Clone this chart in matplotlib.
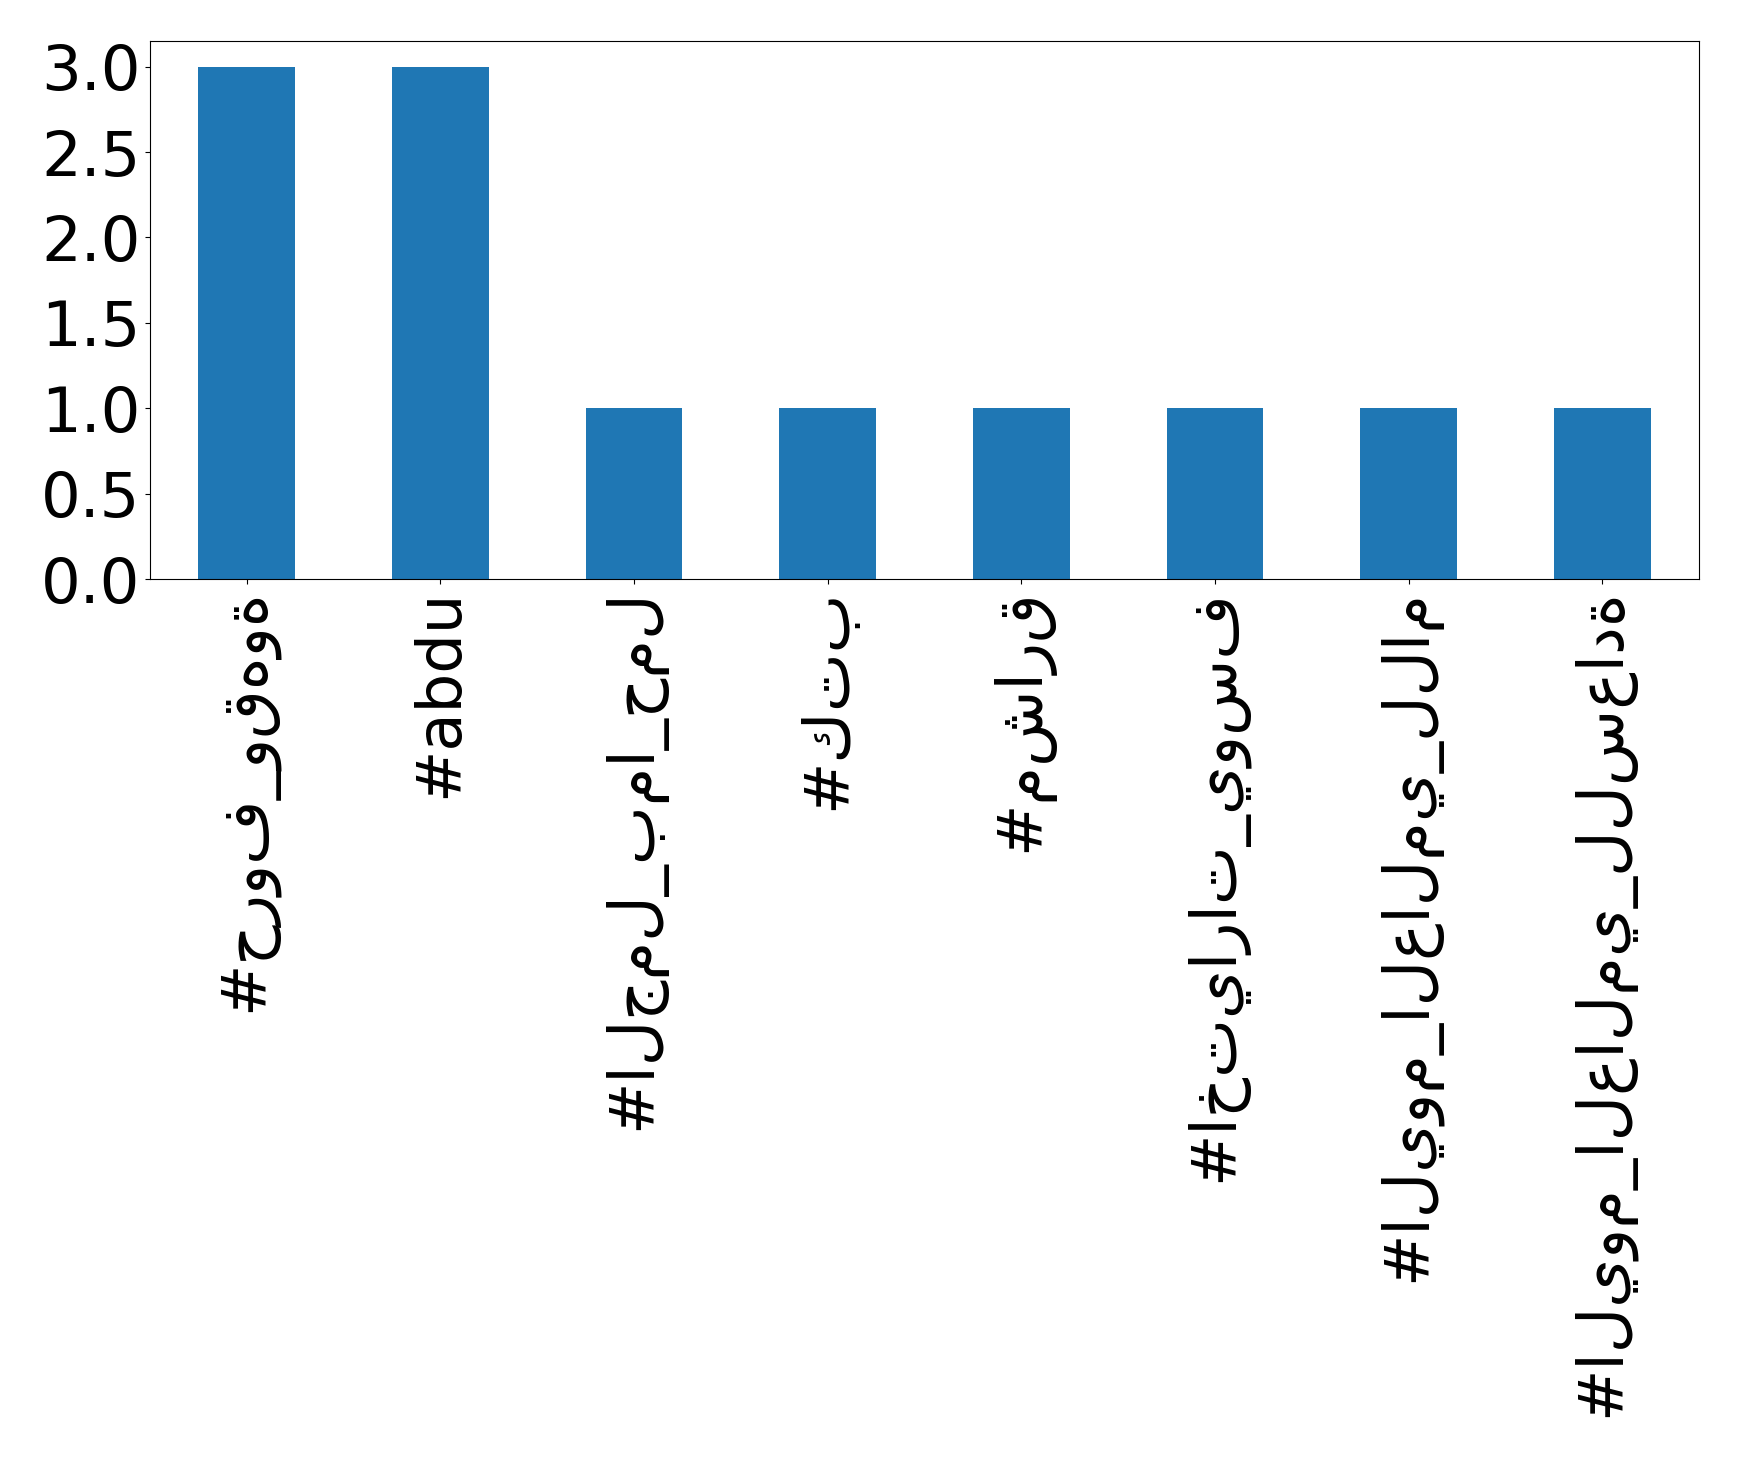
import matplotlib
matplotlib.use("Agg")
import matplotlib.pyplot as plt
import numpy as np

# hashtag counts
hashtags = ["#حروف_وقهوة", "#abdu", "#الجمل_بما_حمل", "#كتب",
            "#مشارق", "#اختيارات_يوسف", "#اليوم_العالمي_للام",
            "#اليوم_العالمي_للسعادة"]
counts = [3, 3, 1, 1, 1, 1, 1, 1]

fig = plt.figure(figsize=(17.39, 14.57), dpi=100)
ax = fig.add_axes([150/1739, 1 - 579/1457, (1699-150)/1739, (579-41)/1457])

x = np.arange(len(hashtags))
ax.bar(x, counts, width=0.5, color="#1f77b4")
ax.set_xlim(-0.5, len(hashtags) - 0.5)
ax.set_ylim(0, 3.15)
ax.set_xticks(x)
ax.set_xticklabels(hashtags, rotation=90, fontsize=45)
ax.set_yticks(np.arange(0, 3.01, 0.5))
ax.set_yticklabels(["%.1f" % v for v in np.arange(0, 3.01, 0.5)], fontsize=45)

fig.savefig("out.png", dpi=100)
